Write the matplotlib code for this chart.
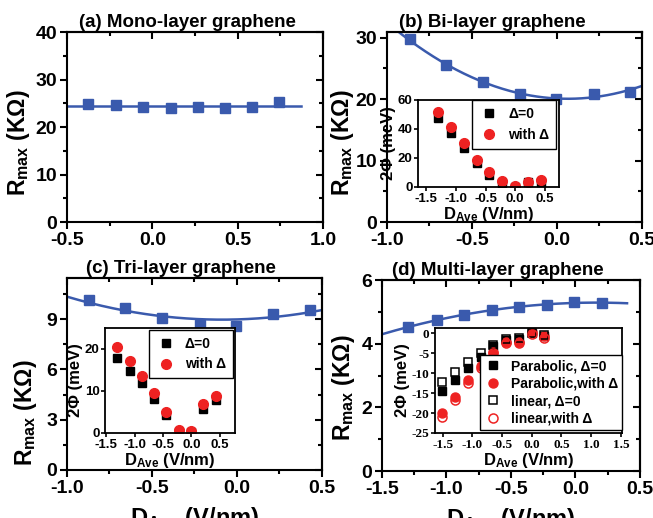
import numpy as np
import matplotlib
matplotlib.use('Agg')
import matplotlib.pyplot as plt
from matplotlib.ticker import MultipleLocator

plt.rcParams['font.family'] = ['Liberation Sans', 'DejaVu Sans']
plt.rcParams['font.weight'] = 'bold'
plt.rcParams['axes.labelweight'] = 'bold'
plt.rcParams['axes.unicode_minus'] = False
plt.rcParams['mathtext.fontset'] = 'custom'
plt.rcParams['mathtext.rm'] = 'Liberation Sans:bold'
plt.rcParams['mathtext.bf'] = 'Liberation Sans:bold'
plt.rcParams['mathtext.default'] = 'bf'

BLUE = '#3a5aad'
RED = '#ee2222'

# (a) mono-layer
mono_d = [-0.375, -0.213, -0.053, 0.107, 0.265, 0.425, 0.585, 0.743]
mono_r = [24.8, 24.7, 24.2, 24.1, 24.2, 24.1, 24.2, 25.2]

# (b) bi-layer
bi_d = [-0.867, -0.651, -0.435, -0.22, -0.004, 0.215, 0.43]
bi_r = [29.7, 25.5, 22.7, 20.85, 20.0, 20.85, 21.2]
bi_in_d = [-1.3, -1.08, -0.867, -0.651, -0.435, -0.22, 0.0, 0.215, 0.43]
bi_gap0 = [47.4, 37.1, 26.8, 16.5, 8.5, 2.7, 0.0, 3.2, 3.2]
bi_gapd = [52.0, 41.7, 30.2, 18.8, 10.1, 3.9, 0.5, 3.4, 4.6]

# (c) tri-layer
tri_d = [-0.873, -0.657, -0.441, -0.22, -0.004, 0.212, 0.427]
tri_r = [10.13, 9.64, 9.08, 8.64, 8.58, 9.28, 9.54]
# fitted curve
tri_fit_d = [-1.0, -0.5, -0.1, 0.5]
tri_fit_r = [10.33, 9.26, 8.95, 9.54]
tri_in_d = [-1.3, -1.08, -0.873, -0.657, -0.441, -0.22, 0.0, 0.212, 0.427]
tri_gap0 = [17.8, 14.8, 11.8, 8.2, 4.2, 0.3, 0.2, 5.8, 7.8]
tri_gapd = [20.4, 17.2, 13.6, 9.6, 5.0, 0.8, 0.4, 6.8, 8.8]

# (d) multi-layer
multi_d = [-1.296, -1.076, -0.864, -0.649, -0.435, -0.223, -0.009, 0.203]
multi_r = [4.53, 4.74, 4.90, 5.06, 5.16, 5.22, 5.32, 5.27]
multi_in_d = [-1.51, -1.296, -1.076, -0.864, -0.649, -0.435, -0.223, 0.0, 0.203]
para_0 = [-14.4, -11.8, -8.75, -6.0, -3.2, -1.7, -1.4, 0.0, -0.7]
para_d = [-20.0, -16.0, -11.8, -8.3, -4.75, -2.3, -2.1, 0.2, -0.8]
lin_0 = [-12.25, -9.8, -7.25, -5.0, -2.9, -1.4, -1.25, 0.0, -0.4]
lin_d = [-21.0, -16.8, -12.5, -8.75, -5.0, -2.5, -2.5, -0.2, -1.25]


def style_main(ax, xlim, ylim, xmaj, ymaj):
    ax.set_xlim(*xlim)
    ax.set_ylim(*ylim)
    ax.xaxis.set_major_locator(MultipleLocator(xmaj))
    ax.xaxis.set_minor_locator(MultipleLocator(xmaj / 2))
    ax.yaxis.set_major_locator(MultipleLocator(ymaj))
    ax.yaxis.set_minor_locator(MultipleLocator(ymaj / 2))
    ax.tick_params(which='both', direction='out', width=1.5, labelsize=14, pad=2)
    ax.tick_params(which='major', length=5)
    ax.tick_params(which='minor', length=3)
    for s in ax.spines.values():
        s.set_linewidth(1.5)
    # mirrored ticks pointing inward
    sx = ax.secondary_xaxis('top')
    sx.xaxis.set_major_locator(MultipleLocator(xmaj))
    sx.xaxis.set_minor_locator(MultipleLocator(xmaj / 2))
    sx.tick_params(which='both', direction='in', labeltop=False, width=1.5)
    sx.tick_params(which='major', length=5)
    sx.tick_params(which='minor', length=3)
    sy = ax.secondary_yaxis('right')
    sy.yaxis.set_major_locator(MultipleLocator(ymaj))
    sy.yaxis.set_minor_locator(MultipleLocator(ymaj / 2))
    sy.tick_params(which='both', direction='in', labelright=False, width=1.5)
    sy.tick_params(which='major', length=5)
    sy.tick_params(which='minor', length=3)
    for s in list(sx.spines.values()) + list(sy.spines.values()):
        s.set_linewidth(1.5)


def add_fit(ax, x, y, deg, x0, x1, fx=None, fy=None):
    if fx is None:
        fx, fy = x, y
    coef = np.polyfit(fx, fy, deg)
    xx = np.linspace(x0, x1, 200)
    ax.plot(xx, np.polyval(coef, xx), color=BLUE, lw=1.8, zorder=2)
    ax.plot(x, y, 's', color=BLUE, ms=6.5, zorder=3)


def set_rlabel(ax, x, y):
    ax.set_ylabel('R$_{max}$ (K\u03a9)', fontsize=16.5)
    ax.yaxis.set_label_coords(x, y)


def style_inset(ax, xlim, ylim, ymaj, serif=False):
    ax.set_xlim(*xlim)
    ax.set_ylim(*ylim)
    ax.xaxis.set_major_locator(MultipleLocator(0.5))
    ax.yaxis.set_major_locator(MultipleLocator(ymaj))
    ax.tick_params(direction='out', length=3, width=1.2, labelsize=9.5, pad=1)
    if serif:
        for lab in ax.get_xticklabels() + ax.get_yticklabels():
            lab.set_family(['Liberation Serif', 'DejaVu Serif'])
            lab.set_fontweight('bold')
    for s in ax.spines.values():
        s.set_linewidth(1.3)
    ax.set_xlabel('D$_{Ave}$ (V/nm)', fontsize=12, labelpad=0)
    ax.set_ylabel('2\u03a6 (meV)', fontsize=12, labelpad=1)


fig = plt.figure(figsize=(6.53, 5.18), dpi=100)

# (a)
ax_a = fig.add_axes([0.1026, 0.5714, 0.392, 0.3668])
add_fit(ax_a, mono_d, mono_r, 0, -0.5, 0.87)
style_main(ax_a, (-0.5, 1.0), (0, 40), 0.5, 10)
ax_a.text(0.47, 1.026, '(a) Mono-layer graphene', transform=ax_a.transAxes,
          ha='center', va='baseline', fontsize=13.5, fontweight='bold')
set_rlabel(ax_a, -0.135, 0.42)

# (b)
ax_b = fig.add_axes([0.5926, 0.5714, 0.3905, 0.3668])
add_fit(ax_b, bi_d, bi_r, 2, -1.0, 0.5)
style_main(ax_b, (-1.0, 0.5), (0, 30.9), 0.5, 10)
ax_b.text(0.415, 1.026, '(b) Bi-layer graphene', transform=ax_b.transAxes,
          ha='center', va='baseline', fontsize=13.5, fontweight='bold')
set_rlabel(ax_b, -0.12, 0.42)

in_b = fig.add_axes([0.6401, 0.639, 0.2159, 0.168])
in_b.plot(bi_in_d, bi_gap0, 's', color='black', ms=6, label='\u0394=0')
in_b.plot(bi_in_d, bi_gapd, 'o', color=RED, ms=7, label='with \u0394')
style_inset(in_b, (-1.64, 0.74), (0, 60), 20)
in_b.legend(loc='upper right', bbox_to_anchor=(0.98, 1.0), borderaxespad=0,
            fancybox=False, edgecolor='black', framealpha=1, fontsize=10,
            handletextpad=0.6, borderpad=0.5, labelspacing=0.5, handlelength=1.5
            ).get_frame().set_linewidth(1.0)

# (c)
ax_c = fig.add_axes([0.1026, 0.0927, 0.3905, 0.3707])
add_fit(ax_c, tri_d, tri_r, 2, -1.0, 0.5, tri_fit_d, tri_fit_r)
style_main(ax_c, (-1.0, 0.5), (0, 11.45), 0.5, 3)
ax_c.text(0.447, 1.026, '(c) Tri-layer graphene', transform=ax_c.transAxes,
          ha='center', va='baseline', fontsize=13.5, fontweight='bold')
set_rlabel(ax_c, -0.11, 0.30)
ax_c.set_xlabel('D$_{Ave}$ (V/nm)', fontsize=17, labelpad=6)

in_c = fig.add_axes([0.1608, 0.1641, 0.1991, 0.2027])
in_c.plot(tri_in_d, tri_gap0, 's', color='black', ms=6, label='\u0394=0')
in_c.plot(tri_in_d, tri_gapd, 'o', color=RED, ms=7, label='with \u0394')
style_inset(in_c, (-1.52, 0.77), (0, 25), 10)
in_c.legend(loc='upper right', bbox_to_anchor=(0.985, 0.985), borderaxespad=0,
            fancybox=False, edgecolor='black', framealpha=1, fontsize=10,
            handletextpad=0.6, borderpad=0.5, labelspacing=0.5, handlelength=1.5
            ).get_frame().set_linewidth(1.0)

# (d)
ax_d = fig.add_axes([0.585, 0.0907, 0.395, 0.3687])
add_fit(ax_d, multi_d, multi_r, 2, -1.5, 0.4)
style_main(ax_d, (-1.5, 0.5), (0, 6), 0.5, 2)
ax_d.text(0.45, 1.026, '(d) Multi-layer graphene', transform=ax_d.transAxes,
          ha='center', va='baseline', fontsize=13.5, fontweight='bold')
set_rlabel(ax_d, -0.097, 0.435)
ax_d.set_xlabel('D$_{Ave}$ (V/nm)', fontsize=17, labelpad=6)

in_d = fig.add_axes([0.6662, 0.1641, 0.2864, 0.2027])
in_d.plot(multi_in_d, para_0, 's', color='black', ms=5.5, label='Parabolic, \u0394=0')
in_d.plot(multi_in_d, para_d, 'o', color=RED, ms=6.5, label='Parabolic,with \u0394')
in_d.plot(multi_in_d, lin_0, 's', mfc='none', mec='black', mew=1.1, ms=5.5,
          label='linear, \u0394=0')
in_d.plot(multi_in_d, lin_d, 'o', mfc='none', mec=RED, mew=1.1, ms=6.5,
          label='linear,with \u0394')
style_inset(in_d, (-1.63, 1.52), (-25, 1.3), 5, serif=True)
in_d.legend(loc='lower right', bbox_to_anchor=(1.0, 0.03), borderaxespad=0,
            fancybox=False, edgecolor='black', framealpha=1, fontsize=10,
            handletextpad=0.7, borderpad=0.3, labelspacing=0.25, handlelength=1.2
            ).get_frame().set_linewidth(1.0)

fig.savefig('out.png', dpi=100)
